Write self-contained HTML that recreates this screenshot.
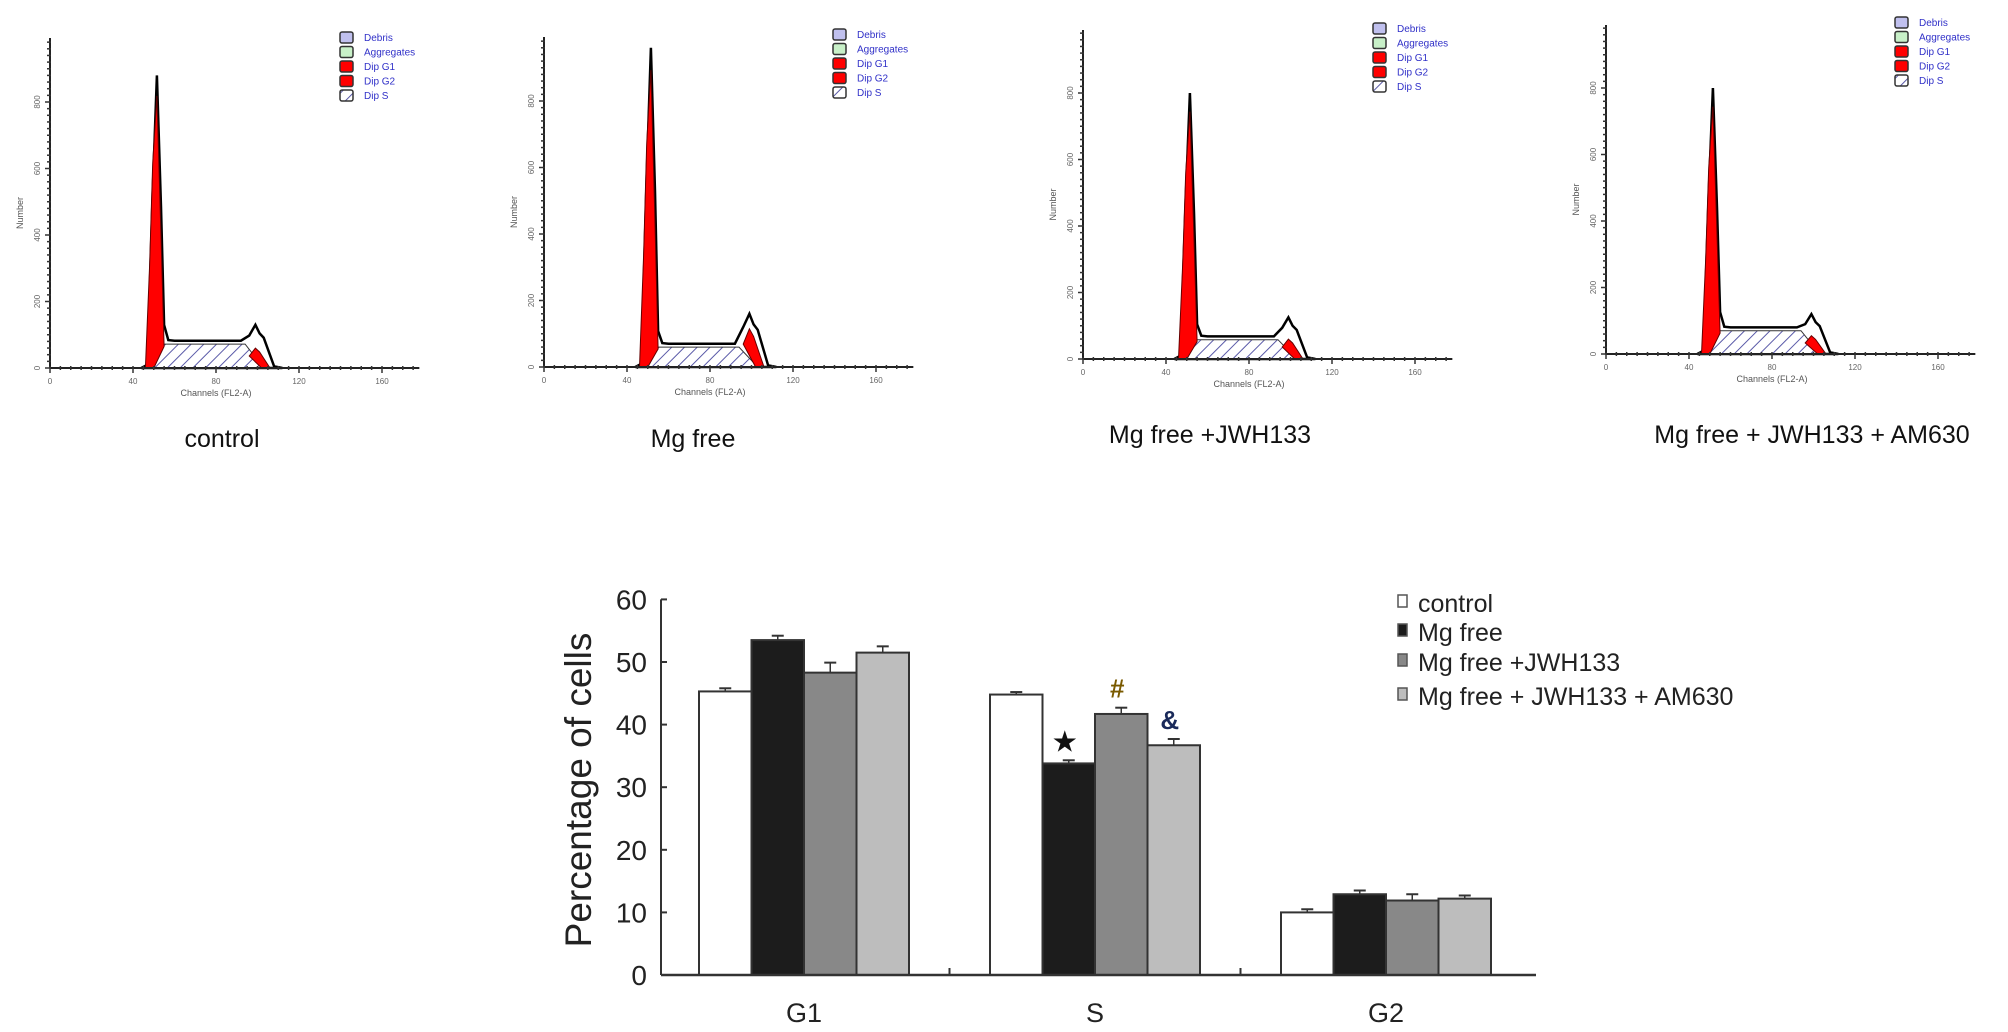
<!DOCTYPE html>
<html><head><meta charset="utf-8">
<style>
html,body{margin:0;padding:0;background:#fff;}
svg{display:block;font-family:"Liberation Sans",sans-serif;}
</style></head>
<body>
<svg id="fig" width="2008" height="1032" viewBox="0 0 2008 1032">
<defs>
<pattern id="hatch" patternUnits="userSpaceOnUse" width="9" height="9" patternTransform="rotate(45)">
<rect width="9" height="9" fill="#fff"/>
<line x1="0" y1="0" x2="0" y2="9" stroke="#5a5aa8" stroke-width="2"/>
</pattern>
</defs>
<g id="hists"></g>
<g id="bars"></g>
</svg>
<script>
// ---------- Histogram data ----------
const panelNames = ["control","Mg free","Mg free +JWH133","Mg free + JWH133 +  AM630"];
const g1Peak = [880, 960, 800, 800];
const sLevel = [72, 60, 58, 70];
const g2Top = [130, 160, 125, 120];
const g2Red = [60, 115, 60, 55];
const histXTicks = [0, 40, 80, 120, 160];
const histYTicks = [0, 200, 400, 600, 800];
const legendItems = ["Debris","Aggregates","Dip G1","Dip G2","Dip S"];

// ---------- Bar chart data ----------
const phases = ["G1","S","G2"];
const seriesNames = ["control","Mg free","Mg free +JWH133","Mg free + JWH133 +  AM630"];
const controlVals = [45.3, 44.8, 10.0];
const mgFreeVals = [53.5, 33.8, 12.9];
const jwhVals = [48.3, 41.7, 11.9];
const am630Vals = [51.5, 36.7, 12.2];
const controlErr = [0.5, 0.4, 0.5];
const mgFreeErr = [0.7, 0.5, 0.6];
const jwhErr = [1.6, 1.0, 1.0];
const am630Err = [1.0, 1.0, 0.5];
const yTicks = [0, 10, 20, 30, 40, 50, 60];
const sigMarks = [["","","",""],["","★","#","&"],["","","",""]];

const NS = "http://www.w3.org/2000/svg";
function mk(tag, attrs, parent, text){
  const e = document.createElementNS(NS, tag);
  for (const k in attrs) e.setAttribute(k, attrs[k]);
  if (text !== undefined) e.textContent = text;
  parent.appendChild(e);
  return e;
}

// ----- histograms -----
const layout = [
  {ax:50, ay:368, top:38, lx:340, ly:32, cx:222},
  {ax:544, ay:367, top:37, lx:833, ly:29, cx:693},
  {ax:1083, ay:359, top:30, lx:1373, ly:23, cx:1210},
  {ax:1606, ay:354, top:25, lx:1895, ly:17, cx:1812}
];
const hg = document.getElementById('hists');
const chPx = 2.075, cntPx = 266/800;
panelNames.forEach((name, i) => {
  const L = layout[i];
  const X = c => L.ax + c*chPx;
  const Y = n => L.ay - n*cntPx;
  const g = mk('g', {}, hg);
  
  
  const s = sLevel[i];
  const outline = [[44,0],[47,10],[49.5,g1Peak[i]*0.6],[51.5,g1Peak[i]],[53.5,g1Peak[i]*0.55],[55,s*1.8],[57,s+12],[60,s+10],[92,s+10],[96,g2Top[i]*0.75],[99,g2Top[i]],[101,g2Top[i]*0.8],[103,g2Top[i]*0.7],[108,5],[112,0]];
  const opts = outline.map(p => X(p[0]).toFixed(1)+','+Y(p[1]).toFixed(1)).join(' ');
  const outEl = mk('polygon', {points: opts, fill:'#fff', stroke:'#000', 'stroke-width':2.5}, g);
  
  
  const sp = [[50,0],[55,s],[94,s],[103,0]].map(p => X(p[0]).toFixed(1)+','+Y(p[1]).toFixed(1)).join(' ');
  const sEl = mk('polygon', {points: sp, fill:'url(#hatch)', stroke:'#333', 'stroke-width':1}, g);
  
  
  const r1 = [[46,0],[48,g1Peak[i]*0.35],[49.5,g1Peak[i]*0.7],[51.5,g1Peak[i]*0.93],[53.5,g1Peak[i]*0.45],[55,s*0.9],[50,0]].map(p => X(p[0]).toFixed(1)+','+Y(p[1]).toFixed(1)).join(' ');
  const g1El = mk('polygon', {points: r1, fill:'#f00', stroke:'#600', 'stroke-width':1}, g);
  
  
  const r2 = [[96,g2Red[i]*0.6],[99,g2Red[i]],[101,g2Red[i]*0.8],[106,0],[102,0]].map(p => X(p[0]).toFixed(1)+','+Y(p[1]).toFixed(1)).join(' ');
  const g2El = mk('polygon', {points: r2, fill:'#f00', stroke:'#600', 'stroke-width':1}, g);
  
  
  mk('line', {x1:L.ax, y1:L.ay, x2:X(178), y2:L.ay, stroke:'#222', 'stroke-width':2}, g);
  mk('line', {x1:L.ax, y1:L.ay, x2:L.ax, y2:L.top, stroke:'#222', 'stroke-width':2}, g);
  for (let c = 0; c <= 175; c += 5) {
    mk('line', {x1:X(c), y1:L.ay-2, x2:X(c), y2:L.ay+(c%40===0?5:2), stroke:'#333', 'stroke-width':1.5}, g);
  }
  for (let n = 0; n <= 980; n += 20) {
    if (Y(n) < L.top) break;
    mk('line', {x1:L.ax-(n%200===0?5:3), y1:Y(n), x2:L.ax+1, y2:Y(n), stroke:'#333', 'stroke-width':1.5}, g);
  }
  histXTicks.forEach(t => {
    mk('text', {x:X(t), y:L.ay+16, 'font-size':8, fill:'#666', 'text-anchor':'middle'}, g, t);
  });
  histYTicks.forEach(t => {
    mk('text', {x:0, y:0, 'font-size':8, fill:'#666', 'text-anchor':'middle', transform:`translate(${L.ax-10},${Y(t)}) rotate(-90)`}, g, t);
  });
  const yt = mk('text', {x:0, y:0, 'font-size':9, fill:'#555', 'text-anchor':'middle', transform:`translate(${L.ax-27},${(L.ay+L.top)/2+10}) rotate(-90)`}, g, 'Number');
  
  
  const xt = mk('text', {x:X(80), y:L.ay+28, 'font-size':9, fill:'#555', 'text-anchor':'middle'}, g, 'Channels (FL2-A)');
  
  
  const fills = ['#c0c0ee','#c8f0c8','#f00','#f00','url(#hatch)'];
  legendItems.forEach((t, k) => {
    const y = L.ly + k*14.5;
    const sw = mk('rect', {x:L.lx, y:y, width:13, height:11, fill:fills[k], stroke:'#333', 'stroke-width':1.5, rx:2}, g);
    
    
    const tx = mk('text', {x:L.lx+24, y:y+9, 'font-size':10, fill:'#3030c8'}, g, t);
    
    
  });
  const lbl = mk('text', {x:L.cx, y:L.ay > 360 ? 447 : 443, 'font-size':25, fill:'#111', 'text-anchor':'middle'}, g, name);
  
  
});

// ----- bar chart -----
const bg = document.getElementById('bars');
const axX = 661, axY0 = 975, unitPx = 6.26;
const yS = v => axY0 - v*unitPx;
const groupStart = 699, groupStep = 291, barW = 52.5;
const xS = (gi, si) => groupStart + gi*groupStep + si*barW;
const allVals = [controlVals, mgFreeVals, jwhVals, am630Vals];
const allErr = [controlErr, mgFreeErr, jwhErr, am630Err];
const barFills = ['#ffffff','#1c1c1c','#888888','#bdbdbd'];
const markColors = ['#000','#111','#7a5a00','#1a2a5a'];

allVals.forEach((vals, si) => {
  vals.forEach((v, gi) => {
    const x = xS(gi, si);
    const r = mk('rect', {x:x, y:yS(v), width:barW, height:axY0 - yS(v), fill:barFills[si], stroke:'#333', 'stroke-width':2}, bg);
    
    
    const e = allErr[si][gi];
    const cx = x + barW/2;
    mk('line', {x1:cx, y1:yS(v), x2:cx, y2:yS(v+e), stroke:'#333', 'stroke-width':1.5}, bg);
    mk('line', {x1:cx-6, y1:yS(v+e), x2:cx+6, y2:yS(v+e), stroke:'#333', 'stroke-width':2}, bg);
    const m = sigMarks[gi][si];
    if (m) {
      const t = mk('text', {x:cx-4, y:yS(v+e)-10, 'font-size':26, 'font-weight':'bold', fill:markColors[si], 'text-anchor':'middle'}, bg, m);
      
      
    }
  });
});
const yAx = mk('line', {x1:axX, y1:axY0, x2:axX, y2:yS(60), stroke:'#333', 'stroke-width':2}, bg);


const xAx = mk('line', {x1:axX, y1:axY0, x2:1536, y2:axY0, stroke:'#333', 'stroke-width':2.5}, bg);


yTicks.forEach(t => {
  mk('line', {x1:axX, y1:yS(t), x2:axX+6, y2:yS(t), stroke:'#333', 'stroke-width':2}, bg);
  const tl = mk('text', {x:axX-14, y:yS(t)+10, 'font-size':28, fill:'#222', 'text-anchor':'end'}, bg, t);
  
  
});
[0,1].forEach(k => {
  const mx = xS(k,4) + (groupStart + (k+1)*groupStep - xS(k,4))/2;
  mk('line', {x1:mx, y1:axY0, x2:mx, y2:axY0-7, stroke:'#333', 'stroke-width':2}, bg);
});
phases.forEach((p, gi) => {
  const t = mk('text', {x:xS(gi,2), y:1022, 'font-size':27, fill:'#222', 'text-anchor':'middle'}, bg, p);
  
  
});
const ytitle = mk('text', {x:0, y:0, 'font-size':37, fill:'#222', 'text-anchor':'middle', transform:'translate(591,790) rotate(-90)'}, bg, 'Percentage of cells');


const legY = [603, 632, 662, 696];
seriesNames.forEach((n, si) => {
  const sw = mk('rect', {x:1398, y:legY[si]-8, width:9, height:12, fill:barFills[si], stroke:'#555', 'stroke-width':1.5}, bg);
  
  
  const t = mk('text', {x:1418, y:legY[si]+9, 'font-size':25, fill:'#222'}, bg, n);
  
  
});
</script>
</body></html>
